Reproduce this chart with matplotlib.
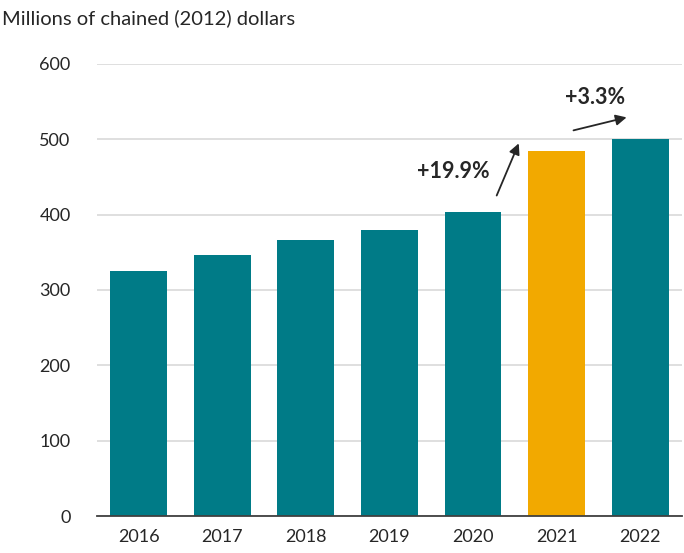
import matplotlib
matplotlib.use("Agg")
import matplotlib.pyplot as plt

years = ["2016", "2017", "2018", "2019", "2020", "2021", "2022"]
values = [325, 346, 367, 380, 404, 485, 500]
highlight = "2021"

TEAL = "#007b87"
GOLD = "#f2a900"

plt.rcParams["font.family"] = ["Lato", "DejaVu Sans"]

fig = plt.figure(figsize=(6.84, 5.53), dpi=100)
ax = fig.add_axes([0.1418, 0.0669, 0.8552, 0.8174])

colors = [GOLD if y == highlight else TEAL for y in years]
ax.bar(range(len(years)), values, width=0.68, color=colors, zorder=3)

ax.set_xlim(-0.5, len(years) - 0.5)
ax.set_ylim(0, 600)
ax.set_yticks(range(0, 601, 100))
ax.set_xticks(range(len(years)))
ax.set_xticklabels(years)
ax.grid(axis="y", color="#d9d9d9", linewidth=1.2, zorder=0)
ax.set_axisbelow(True)
for s in ("top", "right", "left"):
    ax.spines[s].set_visible(False)
ax.spines["bottom"].set_color("#404040")
ax.spines["bottom"].set_linewidth(1.3)
ax.spines["bottom"].set_zorder(4)
ax.tick_params(axis="both", length=0, labelsize=13, colors="#262626")
ax.tick_params(axis="y", pad=19)
ax.tick_params(axis="x", pad=9)

# growth arrows
arrow = dict(arrowstyle="-|>", color="#262626", lw=1.3, mutation_scale=16)
ax.annotate("", xy=(4.56, 498), xytext=(4.27, 422), arrowprops=arrow)
ax.annotate("", xy=(5.87, 530), xytext=(5.17, 511), arrowprops=arrow)
ax.text(3.76, 457, "+19.9%", ha="center", va="center", fontsize=15.5,
        fontweight="bold", color="#262626")
ax.text(5.46, 556, "+3.3%", ha="center", va="center", fontsize=15.5,
        fontweight="bold", color="#262626")

fig.text(0.003, 0.967, "Millions of chained (2012) dollars", ha="left",
         va="center", fontsize=14.5, color="#262626")

fig.savefig("out.png", dpi=100)
